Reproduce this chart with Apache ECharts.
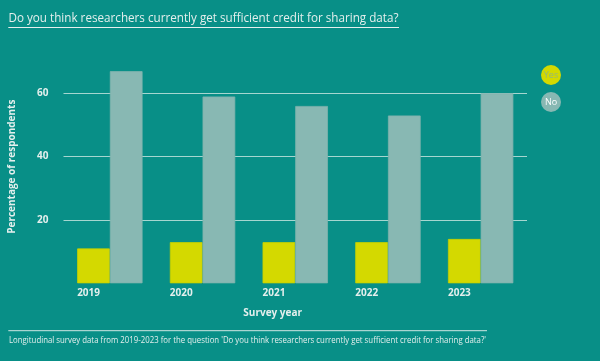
<!DOCTYPE html>
<html><head><meta charset="utf-8">
<script src="https://cdn.jsdelivr.net/npm/echarts@6/dist/echarts.min.js"></script>
<style>html,body{margin:0;padding:0;background:#088f87}#c{width:600px;height:361px}</style>
</head><body><div id="c"></div>
<script>
const categories = ['2019','2020','2021','2022','2023'];
const yesValues = [11, 13, 13, 13, 14];
const noValues = [67, 59, 56, 53, 60];
const seriesNames = ['Yes','No'];
const titleText = 'Do you think researchers currently get sufficient credit for sharing data?';
const captionText = "Longitudinal survey data from 2019-2023 for the question 'Do you think researchers currently get sufficient credit for sharing data?'";
const yAxisTitle = 'Percentage of respondents';
const xAxisTitle = 'Survey year';

const BG = '#088f87', YES = '#d4d900', NO = '#88b8b3', TXT = '#e4efed';
const TITLE_FONT = '13px "Open Sans"', CAP_FONT = '9px "Open Sans"';
const ctx = document.createElement('canvas').getContext('2d');
function widthOf(t, f) { ctx.font = f; return ctx.measureText(t).width; }
const titleScale = 390 / widthOf(titleText, TITLE_FONT);
const capScale = 477 / widthOf(captionText, CAP_FONT);

const chart = echarts.init(document.getElementById('c'));
chart.setOption({
  backgroundColor: BG,
  animation: false,
  grid: {left: 63.5, right: 73, top: 30, bottom: 77.7},
  legend: {show: false},
  xAxis: {
    type: 'category', data: categories,
    axisLine: {show: false}, axisTick: {show: false},
    axisLabel: {
      align: 'right', margin: 5,
      formatter: v => '{y|' + v + '}',
      rich: {y: {width: 32.7, align: 'left', color: TXT, fontFamily: 'Open Sans', fontWeight: 'bold', fontSize: 10}}
    }
  },
  yAxis: {
    type: 'value', min: 0, max: 80, interval: 20,
    axisLine: {show: false}, axisTick: {show: false},
    axisLabel: {margin: 15, color: TXT, fontFamily: 'Open Sans', fontWeight: 'bold', fontSize: 10,
      showMinLabel: false, showMaxLabel: false},
    splitLine: {show: true, showMinLine: false, showMaxLine: false, lineStyle: {color: '#a6d6d0', width: 1}}
  },
  series: [
    {name: seriesNames[0], type: 'bar', data: yesValues, barWidth: 32.7, barGap: '0%',
      itemStyle: {color: YES, borderColor: '#c4d000', borderWidth: 0.8}},
    {name: seriesNames[1], type: 'bar', data: noValues, barWidth: 32.7, barGap: '0%',
      itemStyle: {color: NO, borderColor: '#7fb2ad', borderWidth: 0.8}}
  ],
  graphic: [
    {type: 'text', x: 8.5, y: 18.5, scaleX: titleScale, style: {text: titleText, fill: TXT, font: TITLE_FONT, verticalAlign: 'middle'}},
    {type: 'line', shape: {x1: 8.3, y1: 27.5, x2: 399, y2: 27.5}, style: {stroke: TXT, lineWidth: 1}},
    {type: 'text', x: 12, y: 166.7, rotation: Math.PI/2, style: {text: yAxisTitle, fill: TXT, font: 'bold 10px "Open Sans"', align: 'center', verticalAlign: 'middle'}},
    {type: 'text', x: 272.7, y: 313.5, style: {text: xAxisTitle, fill: TXT, font: 'bold 10px "Open Sans"', align: 'center', verticalAlign: 'middle'}},
    {type: 'line', shape: {x1: 8.3, y1: 330.7, x2: 487, y2: 330.7}, style: {stroke: '#cfe6e3', lineWidth: 1}},
    {type: 'text', x: 9, y: 340, scaleX: capScale, style: {text: captionText, fill: TXT, font: CAP_FONT, verticalAlign: 'middle'}},
    {type: 'circle', shape: {cx: 551, cy: 75, r: 10}, style: {fill: YES}},
    {type: 'text', x: 551, y: 75, style: {text: seriesNames[0], fill: '#93b87a', font: '9px "Open Sans"', align: 'center', verticalAlign: 'middle'}},
    {type: 'circle', shape: {cx: 551, cy: 102, r: 10}, style: {fill: NO}},
    {type: 'text', x: 551, y: 102, style: {text: seriesNames[1], fill: '#ffffff', font: '9px "Open Sans"', align: 'center', verticalAlign: 'middle'}}
  ]
});
</script></body></html>
